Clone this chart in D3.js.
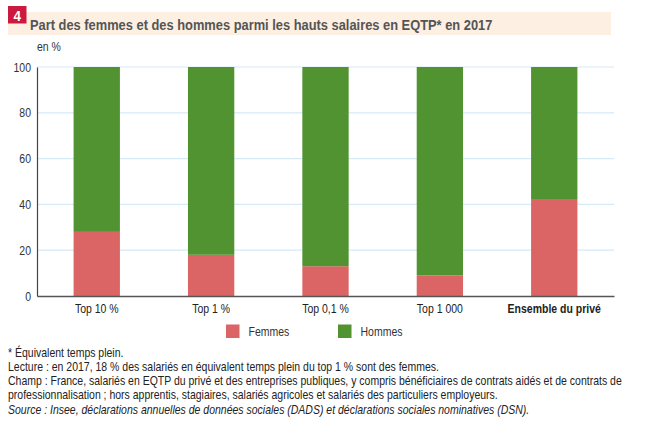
<!DOCTYPE html>
<html><head><meta charset="utf-8">
<script src="https://cdn.jsdelivr.net/npm/d3@7"></script>
<style>
body{margin:0;background:#fff;}
text{font-family:"Liberation Sans",Arial,sans-serif;}
</style></head>
<body><svg id="c" width="661" height="442"></svg>
<script>
const categories = ["Top 10 %","Top 1 %","Top 0,1 %","Top 1 000","Ensemble du privé"];
const femmes = [28, 18, 13, 9, 42];
const hommes = [72, 82, 87, 91, 58];
const yTicks = [0, 20, 40, 60, 80, 100];
const seriesNames = ["Femmes","Hommes"];
const colors = ["#db6465","#519331"];
const title = "Part des femmes et des hommes parmi les hauts salaires en EQTP* en 2017";
const notes = [
 {t:"* Équivalent temps plein.", i:false},
 {t:"Lecture : en 2017, 18 % des salariés en équivalent temps plein du top 1 % sont des femmes.", i:false},
 {t:"Champ : France, salariés en EQTP du privé et des entreprises publiques, y compris bénéficiaires de contrats aidés et de contrats de", i:false},
 {t:"professionnalisation ; hors apprentis, stagiaires, salariés agricoles et salariés des particuliers employeurs.", i:false},
 {t:"Source : Insee, déclarations annuelles de données sociales (DADS) et déclarations sociales nominatives (DSN).", i:true}
];

const SX = 0.84;   // condensed look for small texts
const SXT = 0.83;  // title
const svg = d3.select("#c");
function ntext(g, px, py, s) {
  return g.append("text").attr("transform", `translate(${px},${py}) scale(${s||SX},1)`);
}
// header
svg.append("rect").attr("x",8).attr("y",12).attr("width",603).attr("height",23).attr("fill","#fdefe2");
svg.append("rect").attr("x",8).attr("y",6).attr("width",18.5).attr("height",17.5).attr("fill","#cc1a3f");
ntext(svg,17.2,20.5,0.9).attr("text-anchor","middle").attr("fill","#fff")
  .attr("font-size",15).attr("font-weight","bold").text("4");
ntext(svg,30,30,SXT).attr("fill","#555").attr("font-size",15.5).attr("font-weight","bold").text(title);

const x0 = 37, x1 = 614, yTop = 67, yBot = 296;
const x = d3.scaleBand().domain(categories).range([x0,x1]).paddingInner(0.595).paddingOuter(0.32);
const y = d3.scaleLinear().domain([0,100]).range([yBot,yTop]);

const FS = 12.5;
ntext(svg,37,51).attr("fill","#333").attr("font-size",FS).text("en %");

// grid
svg.append("g").selectAll("line").data(yTicks.filter(d=>d>0)).join("line")
  .attr("x1",x0).attr("x2",x1).attr("y1",d=>y(d)).attr("y2",d=>y(d))
  .attr("stroke","#d5e9f7").attr("stroke-width",1.2);

// stacked bars
const rows = categories.map((c,i)=>({cat:c, Femmes:femmes[i], Hommes:hommes[i]}));
const stack = d3.stack().keys(seriesNames)(rows);
svg.append("g").selectAll("g").data(stack).join("g").attr("fill",(d,i)=>colors[i])
  .selectAll("rect").data(d=>d).join("rect")
  .attr("x",d=>x(d.data.cat)).attr("width",x.bandwidth())
  .attr("y",d=>y(d[1])).attr("height",d=>y(d[0])-y(d[1]));

// y axis
const ya = svg.append("g").attr("transform",`translate(${x0},0)`)
  .call(d3.axisLeft(y).tickValues(yTicks).tickSize(0).tickPadding(6));
ya.select(".domain").attr("stroke","#444").attr("stroke-width",1.2);
ya.selectAll("text").attr("font-size",FS).attr("fill","#333")
  .style("font-family",'"Liberation Sans",Arial,sans-serif')
  .attr("x",-6/SX).attr("transform",`scale(${SX},1)`);

// x axis
const xa = svg.append("g").attr("transform",`translate(0,${yBot})`)
  .call(d3.axisBottom(x).tickSize(0).tickPadding(8));
xa.select(".domain").attr("stroke","#555").attr("stroke-width",1.4);
xa.selectAll("text").attr("font-size",FS).attr("fill","#222")
  .style("font-family",'"Liberation Sans",Arial,sans-serif')
  .attr("transform",`scale(${SX},1)`)
  .attr("font-weight",d=>d==="Ensemble du privé"?"bold":"normal");

// legend
const lg = svg.append("g");
const lx = [226, 338];
seriesNames.forEach((s,i)=>{
  lg.append("rect").attr("x",lx[i]).attr("y",324.5).attr("width",13.5).attr("height",13.5).attr("fill",colors[i]);
  ntext(lg,lx[i]+22.5,335.5).attr("font-size",FS).attr("fill","#333").text(s);
});

// notes
notes.forEach((d,i)=>{
  ntext(svg,8,356.5+i*14.3).attr("font-size",FS).attr("fill","#222")
    .attr("font-style",d.i?"italic":"normal").text(d.t);
});
</script></body></html>
